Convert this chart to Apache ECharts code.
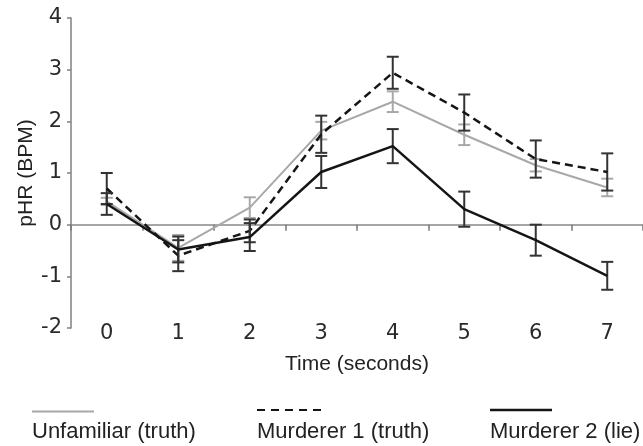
<!DOCTYPE html>
<html>
<head>
<meta charset="utf-8">
<title>pHR</title>
<script src="https://cdn.jsdelivr.net/npm/echarts@6/dist/echarts.min.js"></script>
<style>
  html, body { margin: 0; padding: 0; background: #fff; }
  #chart { width: 643px; height: 446px; }
</style>
</head>
<body>
<div id="chart"></div>
<script>
// time points (seconds)
var times = ['0', '1', '2', '3', '4', '5', '6', '7'];
var yTicks = [-2, -1, 0, 1, 2, 3, 4];

// mean pHR and error (half-length of the bar)
var unfamiliar    = [0.45, -0.45, 0.33, 1.82, 2.38, 1.74, 1.15, 0.72];
var unfamiliarErr = [0.07, 0.25, 0.20, 0.17, 0.20, 0.20, 0.12, 0.17];
var murderer1     = [0.70, -0.60, -0.12, 1.75, 2.94, 2.17, 1.27, 1.02];
var murderer1Err  = [0.30, 0.30, 0.22, 0.36, 0.31, 0.35, 0.36, 0.36];
var murderer2     = [0.40, -0.48, -0.24, 1.02, 1.52, 0.30, -0.30, -0.99];
var murderer2Err  = [0.21, 0.25, 0.27, 0.31, 0.33, 0.34, 0.30, 0.27];

function bars(mean, err) {
    return mean.map(function (m, i) { return [i, m - err[i], m + err[i]]; });
}

function errorBar(color, width) {
    return function (params, api) {
        var x = api.value(0);
        var lo = api.coord([x, api.value(1)]);
        var hi = api.coord([x, api.value(2)]);
        var w = 6;
        var st = { stroke: color, lineWidth: width };
        return {
            type: 'group',
            children: [
                { type: 'line', shape: { x1: hi[0], y1: hi[1], x2: lo[0], y2: lo[1] }, style: st },
                { type: 'line', shape: { x1: hi[0] - w, y1: hi[1], x2: hi[0] + w, y2: hi[1] }, style: st },
                { type: 'line', shape: { x1: lo[0] - w, y1: lo[1], x2: lo[0] + w, y2: lo[1] }, style: st }
            ]
        };
    };
}

var gray = '#a8a8a8', dark = '#151515';
var labelFont = 'DejaVu Sans', textFont = 'Liberation Sans';

var chart = echarts.init(document.getElementById('chart'));
chart.setOption({
    animation: false,
    grid: { left: 71, right: -10, top: 18, bottom: 118 },
    xAxis: [{
        type: 'category',
        data: times,
        position: 'bottom',
        axisLine: { show: false, onZero: false },
        axisTick: { show: false },
        axisLabel: { fontFamily: labelFont, fontSize: 21, color: '#2a2a2a', margin: -5 },
        name: 'Time (seconds)',
        nameLocation: 'middle',
        nameGap: 26,
        nameMoveOverlap: false,
        nameTextStyle: { fontFamily: textFont, fontSize: 21, color: '#222' }
    }, {
        type: 'category',
        data: times,
        position: 'top',
        axisLine: { show: true, onZero: true, onZeroAxisIndex: 0, lineStyle: { color: '#888', width: 1.5 } },
        axisTick: { show: true, inside: true, length: 6, lineStyle: { color: '#777', width: 1.5 } },
        axisLabel: { show: false }
    }],
    yAxis: {
        type: 'value',
        min: yTicks[0],
        max: yTicks[yTicks.length - 1],
        interval: 1,
        axisLine: { show: true, lineStyle: { color: '#808080', width: 1.5 } },
        axisTick: { show: true, length: 4, lineStyle: { color: '#808080', width: 1.5 } },
        splitLine: { show: false },
        axisLabel: { fontFamily: labelFont, fontSize: 21, color: '#2a2a2a', margin: 9 },
        name: 'pHR (BPM)',
        nameLocation: 'middle',
        nameGap: 34,
        nameMoveOverlap: false,
        nameTextStyle: { fontFamily: textFont, fontSize: 21, color: '#222' }
    },
    series: [{
        name: 'Unfamiliar (truth)',
        type: 'line',
        data: unfamiliar,
        symbol: 'none',
        lineStyle: { color: gray, width: 2 },
        z: 3
    }, {
        type: 'custom',
        data: bars(unfamiliar, unfamiliarErr),
        encode: { x: 0, y: [1, 2] },
        renderItem: errorBar(gray, 2),
        z: 3
    }, {
        name: 'Murderer 1 (truth)',
        type: 'line',
        data: murderer1,
        symbol: 'none',
        lineStyle: { color: dark, width: 2.5, type: [8, 5] },
        z: 4
    }, {
        type: 'custom',
        data: bars(murderer1, murderer1Err),
        encode: { x: 0, y: [1, 2] },
        renderItem: errorBar('#333', 2),
        z: 4
    }, {
        name: 'Murderer 2 (lie)',
        type: 'line',
        data: murderer2,
        symbol: 'none',
        lineStyle: { color: dark, width: 2.5 },
        z: 5
    }, {
        type: 'custom',
        data: bars(murderer2, murderer2Err),
        encode: { x: 0, y: [1, 2] },
        renderItem: errorBar('#333', 2),
        z: 5
    }],
    graphic: [
        { type: 'line', shape: { x1: 32, y1: 411.5, x2: 94, y2: 411.5 }, style: { stroke: gray, lineWidth: 2 } },
        { type: 'text', left: 32, top: 421, style: { text: 'Unfamiliar (truth)', fontFamily: textFont, fontSize: 22, fill: '#222' } },
        { type: 'line', shape: { x1: 257, y1: 410, x2: 322, y2: 410 }, style: { stroke: dark, lineWidth: 2, lineDash: [8, 6] } },
        { type: 'text', left: 257, top: 421, style: { text: 'Murderer 1 (truth)', fontFamily: textFont, fontSize: 22, fill: '#222' } },
        { type: 'line', shape: { x1: 490, y1: 410, x2: 552, y2: 410 }, style: { stroke: dark, lineWidth: 2.5 } },
        { type: 'text', left: 490, top: 421, style: { text: 'Murderer 2 (lie)', fontFamily: textFont, fontSize: 22, fill: '#222' } }
    ]
});
</script>
</body>
</html>
